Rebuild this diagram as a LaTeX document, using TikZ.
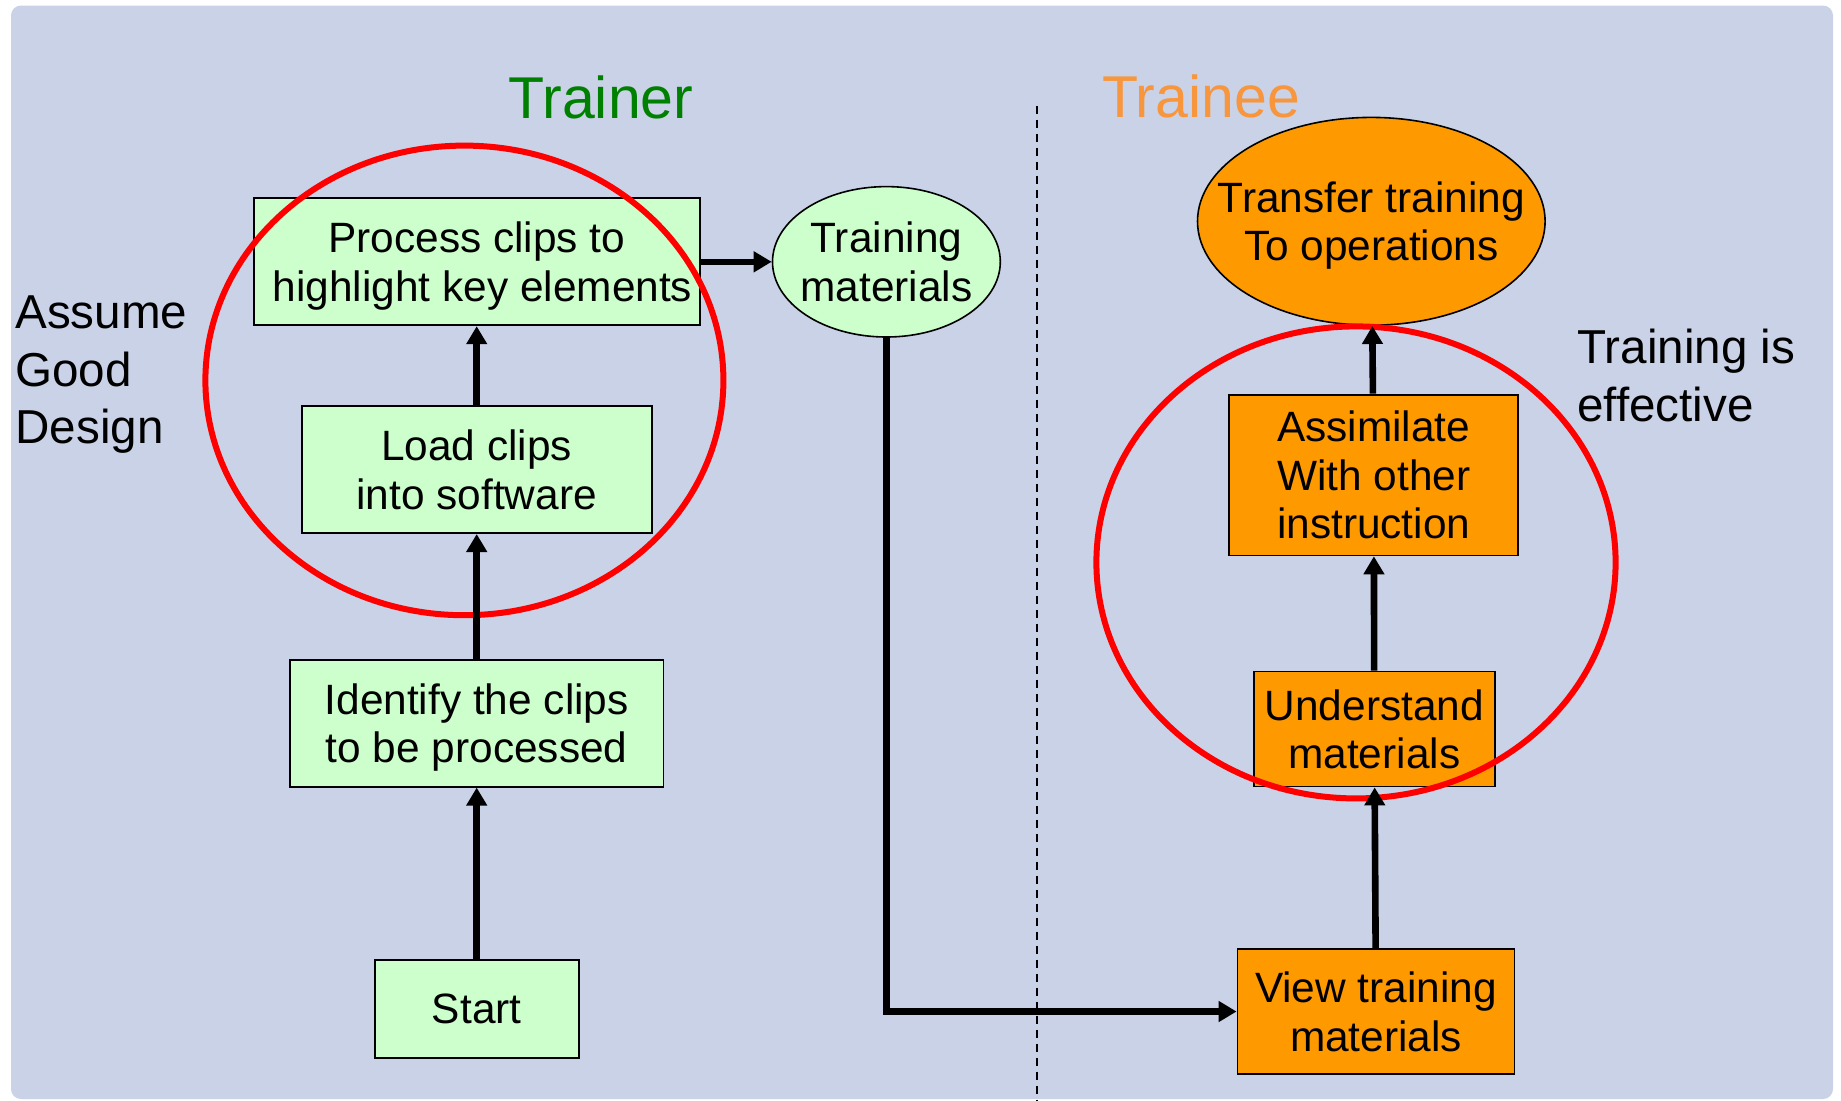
\documentclass[tikz,border=0pt]{standalone}
\usepackage{fontspec}
\setmainfont{Liberation Sans}
\usetikzlibrary{shapes.geometric,arrows.meta}

\definecolor{panelblue}{RGB}{201,210,230}
\definecolor{boxgreen}{RGB}{204,255,204}
\definecolor{boxorange}{RGB}{255,153,0}
\definecolor{trainergreen}{RGB}{0,128,0}
\definecolor{traineeorange}{RGB}{247,150,60}
\definecolor{focusred}{RGB}{255,0,0}

\begin{document}
\begin{tikzpicture}[x=0.5pt,y=-0.5pt,
  every node/.style={font=\fontsize{21.2}{24.2}\selectfont, align=center,
    inner sep=0pt, text depth=0pt},
  greenbox/.style={draw=black, line width=0.9pt, fill=boxgreen, rectangle},
  orangebox/.style={draw=black, line width=0.9pt, fill=boxorange, rectangle},
  oval/.style={draw=black, line width=0.8pt, ellipse, inner xsep=-20pt},
  greenoval/.style={oval, fill=boxgreen},
  orangeoval/.style={oval, fill=boxorange},
  title/.style={font=\fontsize{29.5}{35}\selectfont},
  sidenote/.style={font=\fontsize{23.8}{28.8}\selectfont, align=left, anchor=west},
  flow/.style={line width=3.3pt, -{Triangle[length=9pt,width=10pt]}},
  focus/.style={draw=focusred, line width=3pt},
  divider/.style={line width=1pt, dash pattern=on 4pt off 3pt},
]
\useasboundingbox (0,0) rectangle (1841,1100);
\fill[white] (0,0) rectangle (1841,1100);
\fill[panelblue, rounded corners=5pt] (11,5.5) rectangle (1833,1099);

% column titles and the divider between them
\node[title, text=trainergreen] (ttrainer) at (601,97) {Trainer};
\node[title, text=traineeorange] (ttrainee) at (1201,96) {Trainee};
\draw[divider] (1036.7,105.7) -- (1036.7,1100);

% trainer steps
\node[greenbox, minimum width=223pt, minimum height=63.5pt] (proc) at (476.7,261.8)
  {Process clips to\\\hspace*{5.8pt}highlight key elements};
\node[greenbox, minimum width=175pt, minimum height=63.5pt] (load) at (476.7,469.6)
  {Load clips\\into software};
\node[greenbox, minimum width=186.7pt, minimum height=63.5pt] (ident) at (476.7,723.2)
  {Identify the clips\\to be processed};
\node[greenbox, minimum width=102pt, minimum height=48.7pt] (start) at (476.7,1009)
  {Start};
\node[greenoval, minimum width=113.9pt, minimum height=75.2pt] (mat) at (886.4,261.8)
  {Training\\materials};

% trainee steps
\node[orangeoval, minimum width=173.8pt, minimum height=103.9pt] (xfer) at (1371.3,221.3)
  {Transfer training\\To operations};
\node[orangebox, minimum width=144.4pt, minimum height=80.4pt] (assim) at (1373.7,475)
  {Assimilate\\With other\\instruction};
\node[orangebox, minimum width=120.3pt, minimum height=57.5pt] (under) at (1374.3,729)
  {Understand\\materials};
\node[orangebox, minimum width=138.5pt, minimum height=62.8pt] (view) at (1376,1011.5)
  {View training\\materials};

% side remarks
\node[sidenote] (design) at (15,370) {Assume\\Good\\Design};
\node[sidenote] (effect) at (1577,375) {Training is\\effective};

% highlighted groups
\draw[focus] (464.4,380.4) ellipse [x radius=129.5pt, y radius=117.4pt];
\draw[focus] (1356,562.4) ellipse [x radius=129.8pt, y radius=118pt];

% flow
\draw[flow] (start) -- (ident);
\draw[flow] (ident) -- (load);
\draw[flow] (load) -- (proc);
\draw[flow] (proc) -- (mat);
\draw[flow] (mat.south) |- (view.west);
\draw[flow] (view) -- (under);
\draw[flow] (under) -- (assim);
\draw[flow] (assim) -- (xfer);
\end{tikzpicture}
\end{document}
